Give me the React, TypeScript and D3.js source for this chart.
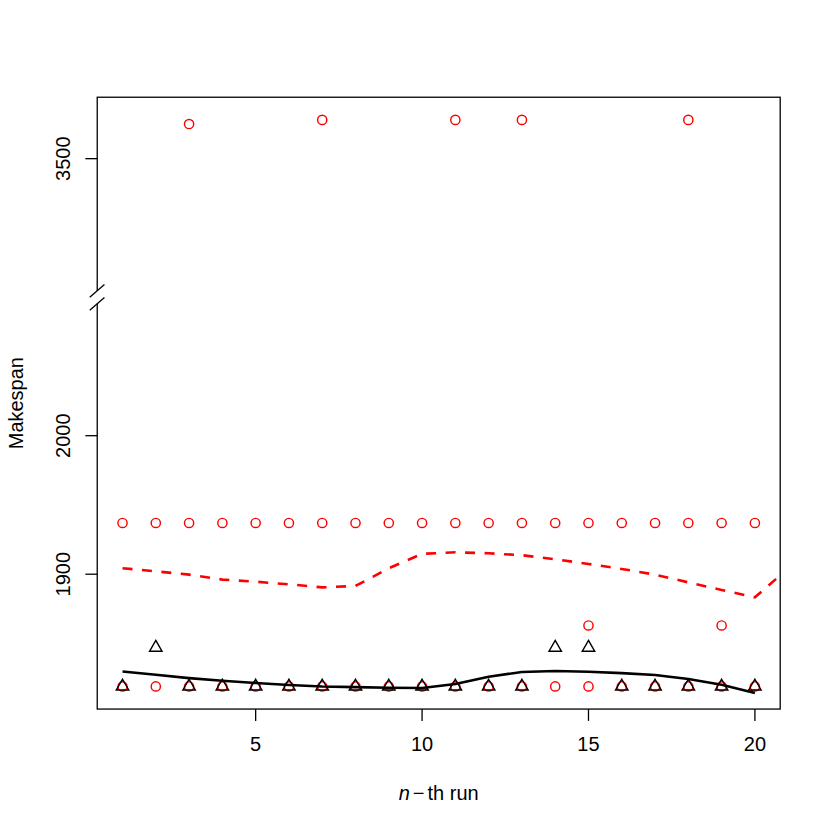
import React, { useEffect, useRef } from 'react';
import * as d3 from 'd3';

// run index on the x axis
const runs = [1, 2, 3, 4, 5, 6, 7, 8, 9, 10, 11, 12, 13, 14, 15, 16, 17, 18, 19, 20];

// red circles: a row near 1937, a row at the best value, plus a few extra runs
const redTop = [1937, 1937, 1937, 1937, 1937, 1937, 1937, 1937, 1937, 1937, 1937, 1937, 1937, 1937, 1937, 1937, 1937, 1937, 1937, 1937];
const redLow = [1819, 1819, 1819, 1819, 1819, 1819, 1819, 1819, 1819, 1819, 1819, 1819, 1819, 1819, 1819, 1819, 1819, 1819, 1819, 1819];
const redExtraRuns = [3, 7, 11, 13, 15, 18, 19];
const redExtraValues = [3525, 3528, 3528, 3528, 1863, 3528, 1863];

// black triangles
const triangleValues = [1819, 1847, 1819, 1819, 1819, 1819, 1819, 1819, 1819, 1819, 1819, 1819, 1819, 1847, 1847, 1819, 1819, 1819, 1819, 1819];

// red dashed line (runs past 20, clipped by the box)
const dashedRuns = [1, 2, 3, 4, 5, 6, 7, 8, 9, 10, 11, 12, 13, 14, 15, 16, 17, 18, 19, 20, 21];
const dashedValues = [1904.3, 1902.1, 1899.7, 1896.1, 1894.6, 1892.7, 1890.5, 1891.5, 1904.3, 1914.7, 1915.8, 1915.1, 1913.7, 1910.8, 1907.4, 1903.8, 1899.7, 1894.1, 1888.6, 1883.3, 1904.2];

// black solid line
const solidValues = [1829.8, 1827.4, 1825.0, 1823.1, 1821.4, 1820.0, 1818.9, 1818.5, 1818.0, 1817.8, 1820.7, 1826.0, 1829.4, 1830.1, 1829.6, 1828.6, 1827.2, 1824.3, 1820.2, 1814.2];

const xTicks = [5, 10, 15, 20];
const yTicks = [1900, 2000, 3500];
const gap = [2100, 3400];

const W = 830, H = 830;
const lineH = (830 / 7) * 0.2; // one R margin line
const left = 4.1 * lineH, top = 4.1 * lineH;
const right = W - 2.1 * lineH, bottom = H - 5.1 * lineH;
const font = '"Liberation Sans", Arial, Helvetica, sans-serif';
const fs = 20;
const red = '#FF0000';
const rad = 4.6;

const gapped = (v: number) => (v > gap[1] ? v - (gap[1] - gap[0]) : v);

const App = () => {
    const ref = useRef<SVGSVGElement>(null);

    useEffect(() => {
        const svg = d3.select(ref.current);
        svg.selectAll('*').remove();

        const [xa, xb] = d3.extent(runs) as [number, number];
        const xpad = (xb - xa) * 0.04;
        const x = d3.scaleLinear().domain([xa - xpad, xb + xpad]).range([left, right]);

        const allY = [...redTop, ...redLow, ...redExtraValues, ...triangleValues].map(gapped);
        const [ya, yb] = d3.extent(allY) as [number, number];
        const ypad = (yb - ya) * 0.04;
        const y = d3.scaleLinear().domain([ya - ypad, yb + ypad]).range([bottom, top]);

        svg.append('rect').attr('width', W).attr('height', H).attr('fill', '#fff');

        svg.append('clipPath').attr('id', 'plotClip')
            .append('rect')
            .attr('x', left).attr('y', top)
            .attr('width', right - left).attr('height', bottom - top);

        const plot = svg.append('g').attr('clip-path', 'url(#plotClip)');

        const circles = [
            ...runs.map((r, i) => ({ run: r, value: redTop[i] })),
            ...runs.map((r, i) => ({ run: r, value: redLow[i] })),
            ...redExtraRuns.map((r, i) => ({ run: r, value: redExtraValues[i] })),
        ];

        plot.selectAll('circle.red').data(circles).enter().append('circle')
            .attr('class', 'red')
            .attr('cx', d => x(d.run))
            .attr('cy', d => y(gapped(d.value)))
            .attr('r', rad)
            .attr('fill', 'none')
            .attr('stroke', red)
            .attr('stroke-width', 1.45);

        const tr0 = 1.5551 * rad, tr1 = 1.3468 * rad, tr2 = 0.7776 * rad;
        const triPath = `M0,${-tr0}L${tr1},${tr2}L${-tr1},${tr2}Z`;

        plot.selectAll('path.tri').data(runs.map((r, i) => ({ run: r, value: triangleValues[i] })))
            .enter().append('path')
            .attr('class', 'tri')
            .attr('d', triPath)
            .attr('transform', d => `translate(${x(d.run)},${y(gapped(d.value))})`)
            .attr('fill', 'none')
            .attr('stroke', '#000')
            .attr('stroke-width', 1.45);

        const line = d3.line<{ run: number; value: number }>()
            .x(d => x(d.run))
            .y(d => y(gapped(d.value)));

        plot.append('path')
            .attr('d', line(dashedRuns.map((r, i) => ({ run: r, value: dashedValues[i] }))))
            .attr('fill', 'none')
            .attr('stroke', red)
            .attr('stroke-width', 2.6)
            .attr('stroke-dasharray', '10,9.5');

        plot.append('path')
            .attr('d', line(runs.map((r, i) => ({ run: r, value: solidValues[i] }))))
            .attr('fill', 'none')
            .attr('stroke', '#000')
            .attr('stroke-width', 2.6)
            .attr('stroke-linejoin', 'round');

        // box
        svg.append('rect')
            .attr('x', left).attr('y', top)
            .attr('width', right - left).attr('height', bottom - top)
            .attr('fill', 'none').attr('stroke', '#000').attr('stroke-width', 1.3);

        const tick = 0.5 * lineH;

        // x axis
        const xg = svg.append('g');
        xg.selectAll('line').data(xTicks).enter().append('line')
            .attr('x1', d => x(d)).attr('x2', d => x(d))
            .attr('y1', bottom).attr('y2', bottom + tick)
            .attr('stroke', '#000').attr('stroke-width', 1.3);
        xg.selectAll('text').data(xTicks).enter().append('text')
            .attr('x', d => x(d)).attr('y', bottom + 42)
            .attr('text-anchor', 'middle')
            .attr('font-family', font).attr('font-size', fs)
            .text(d => d);

        // y axis
        const yg = svg.append('g');
        yg.selectAll('line').data(yTicks).enter().append('line')
            .attr('x1', left - tick).attr('x2', left)
            .attr('y1', d => y(gapped(d))).attr('y2', d => y(gapped(d)))
            .attr('stroke', '#000').attr('stroke-width', 1.3);
        yg.selectAll('text').data(yTicks).enter().append('text')
            .attr('transform', d => `translate(${left - 27},${y(gapped(d))}) rotate(-90)`)
            .attr('text-anchor', 'middle')
            .attr('font-family', font).attr('font-size', fs)
            .text(d => d);

        // axis break
        const yb0 = y(gap[0]);
        const half = 6.5;
        svg.append('rect')
            .attr('x', left - 2).attr('y', yb0 - half)
            .attr('width', 4).attr('height', 2 * half)
            .attr('fill', '#fff');
        [yb0 - half, yb0 + half].forEach(c => {
            svg.append('line')
                .attr('x1', left - 7.5).attr('y1', c + 6.5)
                .attr('x2', left + 7.2).attr('y2', c - 6.2)
                .attr('stroke', '#000').attr('stroke-width', 1.3);
        });

        // titles
        svg.append('text')
            .attr('transform', `translate(23,${(top + bottom) / 2}) rotate(-90)`)
            .attr('text-anchor', 'middle')
            .attr('font-family', font).attr('font-size', fs)
            .text('Makespan');

        const xt = svg.append('text')
            .attr('x', (left + right) / 2).attr('y', 800)
            .attr('text-anchor', 'middle')
            .attr('font-family', font).attr('font-size', fs);
        xt.append('tspan').attr('font-style', 'italic').text('n');
        xt.append('tspan').attr('dx', 3).text('\u2212');
        xt.append('tspan').attr('dx', 3).text('th run');
    }, []);

    return (
        <svg ref={ref} width={W} height={H} style={{ position: 'absolute', left: 0, top: 0 }} />
    );
};

export default App;
